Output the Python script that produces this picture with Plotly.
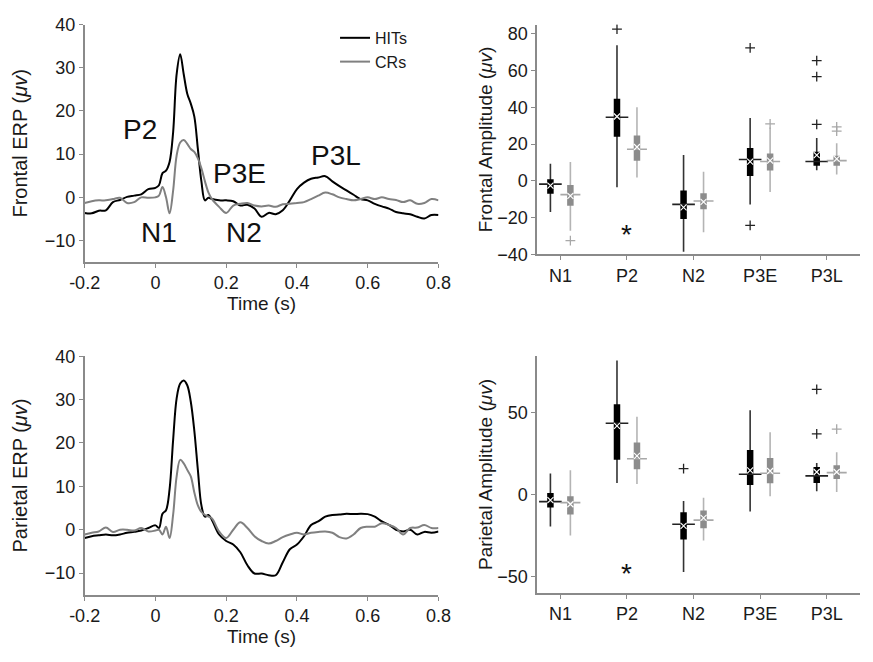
import plotly.graph_objects as go

# ---------------- ERP waveforms ----------------
time_s = [-0.2, -0.18, -0.16, -0.14, -0.12, -0.1, -0.08, -0.06, -0.04, -0.02, 0.0, 0.01, 0.02, 0.03, 0.04,
          0.05, 0.06, 0.07, 0.08, 0.09, 0.1, 0.11, 0.12, 0.13, 0.14, 0.15, 0.16, 0.18, 0.2, 0.22, 0.24,
          0.26, 0.28, 0.3, 0.32, 0.34, 0.36, 0.38, 0.4, 0.42, 0.44, 0.46, 0.48, 0.5, 0.52, 0.54, 0.56,
          0.58, 0.6, 0.62, 0.64, 0.66, 0.68, 0.7, 0.72, 0.74, 0.76, 0.78, 0.8]

frontal_hit = [-3.6, -3.7, -3.1, -3.0, -1.1, -0.6, 0.1, 0.4, 0.7, 1.9, 2.2, 2.8, 5.6, 6.2, 8.2,
               15.0, 28.5, 33.1, 28.5, 24.0, 21.7, 18.7, 11.2, 3.7, -0.7, -0.1, -0.4, -0.7, -0.7, -0.9, -1.9,
               -1.7, -2.6, -4.5, -3.6, -3.9, -3.0, -0.7, 1.9, 3.4, 4.3, 4.6, 4.9, 3.7, 2.6, 1.6, 0.6,
               -0.4, -0.7, -1.5, -2.1, -2.6, -3.4, -3.7, -3.9, -4.5, -4.9, -4.1, -4.1]

frontal_cr = [-1.3, -0.9, -0.7, -0.7, -0.4, -0.1, -1.3, -1.1, 0.0, -0.1, 0.0, 0.4, 2.4, 0.0, -3.7,
              1.5, 9.7, 12.7, 13.3, 12.4, 11.2, 10.5, 9.0, 6.7, 3.7, 1.1, -0.4, -2.2, -3.6, -1.9, -1.5,
              -1.3, -1.9, -2.1, -1.9, -2.2, -1.6, -1.5, -1.3, -1.1, -0.4, 0.4, 1.1, 0.7, 0.0, -0.4, -0.7,
              -0.4, 0.0, -0.4, 0.0, -0.4, -0.6, -1.1, -0.7, -1.5, -1.3, -0.4, -0.7]

parietal_hit = [-1.9, -1.5, -1.3, -1.1, -1.3, -1.1, -0.7, -0.5, -0.2, 0.4, 1.0, 0.4, 3.7, 4.5, 9.3,
                20.6, 30.3, 33.7, 34.4, 33.3, 29.5, 22.8, 13.8, 5.6, 3.0, 3.4, 2.2, -1.1, -2.6, -3.4, -5.2,
                -8.2, -10.1, -10.1, -10.5, -10.5, -7.5, -4.5, -3.4, -1.5, 1.1, 1.9, 3.0, 3.4, 3.5, 3.7, 3.6,
                3.7, 3.6, 3.0, 1.9, 1.1, 0.0, -0.4, 0.0, -1.1, -0.5, -0.7, -0.4]

parietal_cr = [-1.1, -0.7, -0.4, 0.5, -0.5, 0.0, 0.0, -0.2, 0.4, -0.4, -0.2, 0.0, -1.1, 0.7, -1.9,
               3.4, 12.3, 16.1, 15.3, 13.8, 12.3, 8.6, 5.6, 4.1, 3.4, 3.0, 2.6, -0.4, -1.9, 0.0, 1.7,
               0.4, -1.5, -2.6, -3.2, -2.6, -1.7, -1.1, -0.7, -1.1, -0.7, -0.5, -0.4, -0.7, -1.7, -2.0, -1.1,
               0.4, 0.7, 0.7, 1.5, 1.1, 0.4, -1.1, 0.4, 0.5, 1.1, 0.4, 0.4]

erp_x_ticks = [-0.2, 0, 0.2, 0.4, 0.6, 0.8]
erp_x_labels = ["-0.2", "0", "0.2", "0.4", "0.6", "0.8"]

component_labels = ["P2", "N1", "P3E", "N2", "P3L"]
component_t = [-0.043, 0.01, 0.238, 0.249, 0.51]
component_v = [15.8, -8.2, 5.6, -8.2, 9.6]

# ---------------- Box plot statistics ----------------
categories = ["N1", "P2", "N2", "P3E", "P3L"]

# Frontal, HITs
f_hit_lo = [-17.0, -3.5, -38.6, -12.8, 5.8]
f_hit_q1 = [-7.0, 24.0, -20.7, 2.6, 8.2]
f_hit_med = [-1.8, 34.6, -12.8, 11.6, 10.5]
f_hit_q3 = [0.9, 44.7, -5.3, 17.9, 15.8]
f_hit_hi = [9.3, 73.7, 14.0, 34.2, 23.3]
f_hit_mean = [-2.6, 35.0, -14.4, 10.5, 14.0]
f_hit_out = [[], [82.5], [], [72.3, -24.2], [65.4, 56.7, 30.7]]
# Frontal, CRs
f_cr_lo = [-27.2, 1.8, -28.0, -6.1, 3.5]
f_cr_q1 = [-13.5, 10.9, -15.4, 5.6, 8.2]
f_cr_med = [-7.5, 17.2, -11.0, 10.5, 11.0]
f_cr_q3 = [-2.3, 24.6, -6.7, 14.9, 13.7]
f_cr_hi = [10.2, 40.0, 4.9, 29.0, 20.5]
f_cr_mean = [-8.2, 18.4, -11.4, 11.0, 12.0]
f_cr_out = [[-32.5], [], [], [31.0], [29.3, 27.0]]

# Parietal, HITs
p_hit_lo = [-19.5, 7.1, -47.3, -10.3, 2.0]
p_hit_q1 = [-7.9, 21.3, -27.4, 5.9, 7.1]
p_hit_med = [-4.3, 43.6, -18.1, 12.4, 11.4]
p_hit_q3 = [1.0, 55.2, -10.8, 27.2, 16.8]
p_hit_hi = [12.8, 81.9, -3.9, 51.5, 19.3]
p_hit_mean = [-3.4, 42.0, -19.1, 14.8, 13.8]
p_hit_out = [[], [], [15.8], [], [64.3, 37.1]]
# Parietal, CRs
p_cr_lo = [-25.0, 6.5, -28.0, -1.0, 1.6]
p_cr_q1 = [-12.2, 15.4, -20.5, 6.9, 9.5]
p_cr_med = [-4.9, 21.9, -15.6, 13.0, 13.4]
p_cr_q3 = [-1.0, 31.8, -9.7, 22.3, 17.9]
p_cr_hi = [14.8, 47.5, -2.0, 38.0, 25.8]
p_cr_mean = [-5.9, 23.7, -14.2, 14.4, 13.8]
p_cr_out = [[], [], [], [], [40.0]]

sig_category = "P2"
frontal_sig_y = -29.3
parietal_sig_y = -48.3

# ---------------- Figure ----------------
FONT = "Arial, Liberation Sans, sans-serif"
HIT_COLOR = "#000000"
CR_COLOR = "#808080"
AX_COLOR = "#8a8a8a"
TXT = "#1a1a1a"

fig = go.Figure()


def erp(xa, ya, hit, cr, show):
    fig.add_trace(go.Scatter(x=time_s, y=hit, mode="lines", name="HITs",
                             line=dict(color=HIT_COLOR, width=2), xaxis=xa, yaxis=ya,
                             showlegend=show, line_shape="spline"))
    fig.add_trace(go.Scatter(x=time_s, y=cr, mode="lines", name="CRs",
                             line=dict(color=CR_COLOR, width=2), xaxis=xa, yaxis=ya,
                             showlegend=show, line_shape="spline"))


erp("x", "y", frontal_hit, frontal_cr, True)
erp("x3", "y3", parietal_hit, parietal_cr, False)


def boxes(xa, ya, lo, q1, med, q3, hi, mean, outs, offset, box_col, wh_col, med_col, out_col, halfw):
    pos = [i + 1 + offset for i in range(len(categories))]
    wx, wy, bx, by, mx, my = [], [], [], [], [], []
    ox, oy = [], []
    for i, p in enumerate(pos):
        wx += [p, p, None]
        wy += [lo[i], hi[i], None]
        bx += [p, p, None]
        by += [q1[i], q3[i], None]
        mx += [p - halfw, p + halfw, None]
        my += [med[i], med[i], None]
        for o in outs[i]:
            ox.append(p)
            oy.append(o)
    common = dict(xaxis=xa, yaxis=ya, showlegend=False, hoverinfo="skip")
    fig.add_trace(go.Scatter(x=wx, y=wy, mode="lines", line=dict(color=wh_col, width=1.6), **common))
    fig.add_trace(go.Scatter(x=bx, y=by, mode="lines", line=dict(color=box_col, width=6.5), **common))
    fig.add_trace(go.Scatter(x=mx, y=my, mode="lines", line=dict(color=med_col, width=1.6), **common))
    fig.add_trace(go.Scatter(x=pos, y=mean, mode="markers",
                             marker=dict(symbol="x-thin-open", size=6, color="white",
                                         line=dict(color="white", width=1.1)),
                             **common))
    if ox:
        fig.add_trace(go.Scatter(x=ox, y=oy, mode="markers",
                                 marker=dict(symbol="cross-thin-open", size=7, color=out_col,
                                             line=dict(color=out_col, width=1.3)),
                                 **common))


boxes("x2", "y2", f_hit_lo, f_hit_q1, f_hit_med, f_hit_q3, f_hit_hi, f_hit_mean, f_hit_out,
      -0.15, "#000000", "#333333", "#222222", "#222222", 0.17)
boxes("x2", "y2", f_cr_lo, f_cr_q1, f_cr_med, f_cr_q3, f_cr_hi, f_cr_mean, f_cr_out,
      0.15, "#8c8c8c", "#b4b4b4", "#a8a8a8", "#a8a8a8", 0.15)
boxes("x4", "y4", p_hit_lo, p_hit_q1, p_hit_med, p_hit_q3, p_hit_hi, p_hit_mean, p_hit_out,
      -0.15, "#000000", "#333333", "#222222", "#222222", 0.17)
boxes("x4", "y4", p_cr_lo, p_cr_q1, p_cr_med, p_cr_q3, p_cr_hi, p_cr_mean, p_cr_out,
      0.15, "#8c8c8c", "#b4b4b4", "#a8a8a8", "#a8a8a8", 0.15)

W, H = 873, 662


def xd(a, b):
    return [a / W, b / W]


def yd(top, bottom):
    return [1 - bottom / H, 1 - top / H]


axis_common = dict(showline=True, linecolor=AX_COLOR, linewidth=1.5, ticks="outside",
                   tickcolor=AX_COLOR, ticklen=4, tickwidth=1.2, showgrid=False, zeroline=False,
                   tickfont=dict(family=FONT, size=18, color=TXT), mirror=False)
title_font = dict(family=FONT, size=19, color=TXT)
left_title_font = dict(family=FONT, size=20, color=TXT)

cat_pos = [i + 1 for i in range(len(categories))]

fig.update_layout(
    width=W, height=H, margin=dict(l=0, r=0, t=0, b=0),
    paper_bgcolor="white", plot_bgcolor="white",
    font=dict(family=FONT, size=16, color=TXT),
    xaxis=dict(domain=xd(71, 437), range=[-0.2, 0.8], tickvals=erp_x_ticks, ticktext=erp_x_labels,
               anchor="y", title=dict(text="Time (s)", font=title_font, standoff=4), **axis_common),
    yaxis=dict(domain=yd(15, 260), range=[-15, 40], tickvals=[-10, 0, 10, 20, 30, 40], anchor="x",
               title=dict(text="Frontal ERP (<i>μv</i>)", font=left_title_font, standoff=12), **axis_common),
    xaxis3=dict(domain=xd(71, 437), range=[-0.2, 0.8], tickvals=erp_x_ticks, ticktext=erp_x_labels,
                anchor="y3", title=dict(text="Time (s)", font=title_font, standoff=4), **axis_common),
    yaxis3=dict(domain=yd(357, 603), range=[-15, 40], tickvals=[-10, 0, 10, 20, 30, 40], anchor="x3",
                title=dict(text="Parietal ERP (<i>μv</i>)", font=left_title_font, standoff=12), **axis_common),
    xaxis2=dict(domain=xd(539, 873), range=[0.65, 5.5], tickvals=cat_pos, ticktext=categories,
                anchor="y2", **axis_common),
    yaxis2=dict(domain=yd(15, 252), range=[-40, 85], tickvals=[-40, -20, 0, 20, 40, 60, 80], anchor="x2",
                title=dict(text="Frontal Amplitude (<i>μv</i>)", font=title_font, standoff=0), **axis_common),
    xaxis4=dict(domain=xd(539, 873), range=[0.65, 5.5], tickvals=cat_pos, ticktext=categories,
                anchor="y4", **axis_common),
    yaxis4=dict(domain=yd(357, 601), range=[-60, 84.5], tickvals=[-50, 0, 50], anchor="x4",
                title=dict(text="Parietal Amplitude (<i>μv</i>)", font=title_font, standoff=0), **axis_common),
    legend=dict(x=0.378, y=0.983, xanchor="left", yanchor="top", bgcolor="rgba(0,0,0,0)",
                font=dict(family=FONT, size=16, color=TXT), tracegroupgap=0, itemwidth=30),
)

for lab, t, v in zip(component_labels, component_t, component_v):
    fig.add_annotation(x=t, y=v, xref="x", yref="y", text=lab, showarrow=False,
                       font=dict(family=FONT, size=28, color="#111111"))

sig_x = categories.index(sig_category) + 1
fig.add_annotation(x=sig_x, y=frontal_sig_y, xref="x2", yref="y2", text="*", showarrow=False,
                   font=dict(family=FONT, size=28, color="#111111"))
fig.add_annotation(x=sig_x, y=parietal_sig_y, xref="x4", yref="y4", text="*", showarrow=False,
                   font=dict(family=FONT, size=28, color="#111111"))

fig.write_html("out.html")
